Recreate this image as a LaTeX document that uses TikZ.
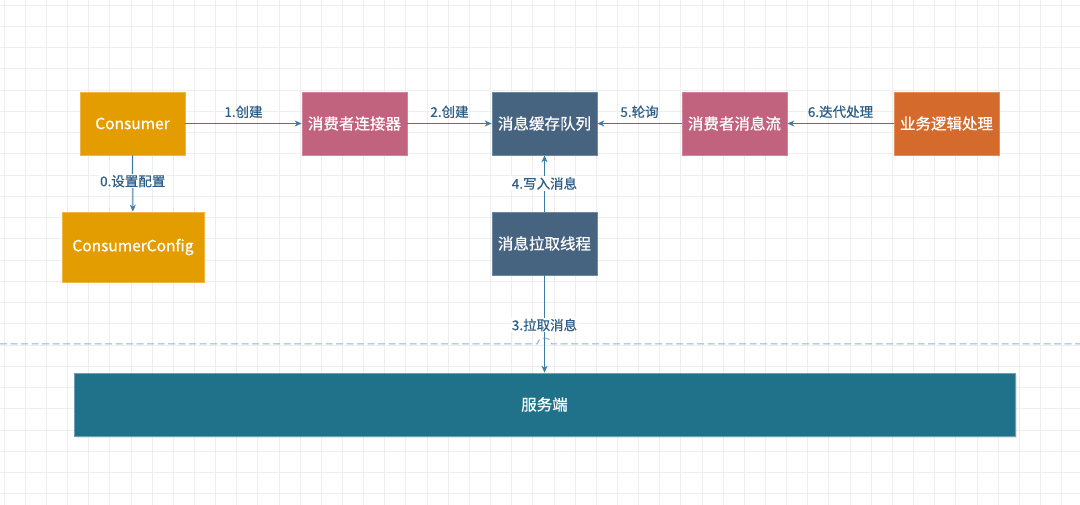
\documentclass[tikz,border=0pt]{standalone}
\usepackage{fontspec}
\setmainfont{Noto Sans CJK SC}
\newfontfamily\boxfont[FakeBold=0.7]{Noto Sans CJK SC}
\newfontfamily\labfont[FakeBold=0.5]{Noto Sans CJK SC}
\usetikzlibrary{arrows.meta,shadows}
\definecolor{cOrange}{RGB}{227,157,0}
\definecolor{cOrangeB}{RGB}{238,182,70}
\definecolor{cPink}{RGB}{193,98,127}
\definecolor{cPinkB}{RGB}{210,130,155}
\definecolor{cNavy}{RGB}{70,99,127}
\definecolor{cNavyB}{RGB}{110,137,162}
\definecolor{cRust}{RGB}{212,107,45}
\definecolor{cRustB}{RGB}{230,140,90}
\definecolor{cTeal}{RGB}{31,114,137}
\definecolor{cTealB}{RGB}{110,160,178}
\definecolor{cArrow}{RGB}{58,124,165}
\definecolor{cLabel}{RGB}{44,94,135}
\definecolor{cDash}{RGB}{140,182,216}
\definecolor{cGrid}{RGB}{238,238,238}
\begin{document}
\begin{tikzpicture}[x=1pt,y=-1pt,
  box/.style={draw, line width=0.7pt, text=white, font=\boxfont\fontsize{15.5}{18}\selectfont,
    minimum width=105pt, minimum height=63pt, inner sep=0pt},
  conn/.style={draw=cArrow, line width=1pt, -{Stealth[length=7pt,width=6pt]}},
  lab/.style={text=cLabel, font=\labfont\fontsize{13.5}{15}\selectfont, inner sep=1pt},
  labbg/.style={lab, fill=white},
  gridline/.style={draw=cGrid, line width=0.8pt}]
\useasboundingbox (0,0) rectangle (1080,505);
\fill[white] (0,0) rectangle (1080,505);
\foreach \i in {0,...,50} \draw[gridline] ({4+21.15*\i},0) -- ({4+21.15*\i},505);
\foreach \j in {0,...,23} \draw[gridline] (0,{5+21.25*\j}) -- (1080,{5+21.25*\j});

% dashed boundary with line jump
\coordinate (dl) at (0,344);
\coordinate (dj1) at (537.5,344);
\coordinate (dj2) at (551.5,344);
\coordinate (dr) at (1080,344);
\draw[cDash, line width=1pt, dash pattern=on 7pt off 3.5pt] (dl) -- (dj1) .. controls (538,336) and (551,336) .. (dj2) -- (dr);

\node[box, fill=cOrange, draw=cOrangeB] (cons) at (132.5,123.5) {Consumer};
\node[box, fill=cOrange, draw=cOrangeB, minimum width=142pt, minimum height=70pt] (cfg) at (133,247) {ConsumerConfig};
\node[box, fill=cPink, draw=cPinkB] (conn) at (354.5,123.5) {消费者连接器};
\node[box, fill=cNavy, draw=cNavyB] (queue) at (544.5,123.5) {消息缓存队列};
\node[box, fill=cPink, draw=cPinkB] (stream) at (734.5,123.5) {消费者消息流};
\node[box, fill=cRust, draw=cRustB] (biz) at (946.5,123.5) {业务逻辑处理};
\node[box, fill=cNavy, draw=cNavyB] (fetch) at (544.5,243.5) {消息拉取线程};
\node[box, fill=cTeal, draw=cTealB, minimum width=941pt, minimum height=63pt,
  drop shadow={opacity=0.18, shadow xshift=1.5pt, shadow yshift=-1.5pt}] (server) at (544.5,404.5) {服务端};

\draw[conn] (cons) -- node[lab, above=4pt] {1.创建} (conn);
\draw[conn] (conn) -- node[lab, above=4pt] {2.创建} (queue);
\draw[conn] (stream) -- node[lab, above=4pt] {5.轮询} (queue);
\draw[conn] (biz) -- node[lab, above=4pt] {6.迭代处理} (stream);
\draw[conn] (cons) -- node[labbg, pos=0.46] {0.设置配置} (cfg);
\draw[conn] (fetch) -- node[labbg, pos=0.5] {4.写入消息} (queue);
\draw[conn] (fetch) -- node[labbg, pos=0.51] {3.拉取消息} (server);
\end{tikzpicture}
\end{document}
